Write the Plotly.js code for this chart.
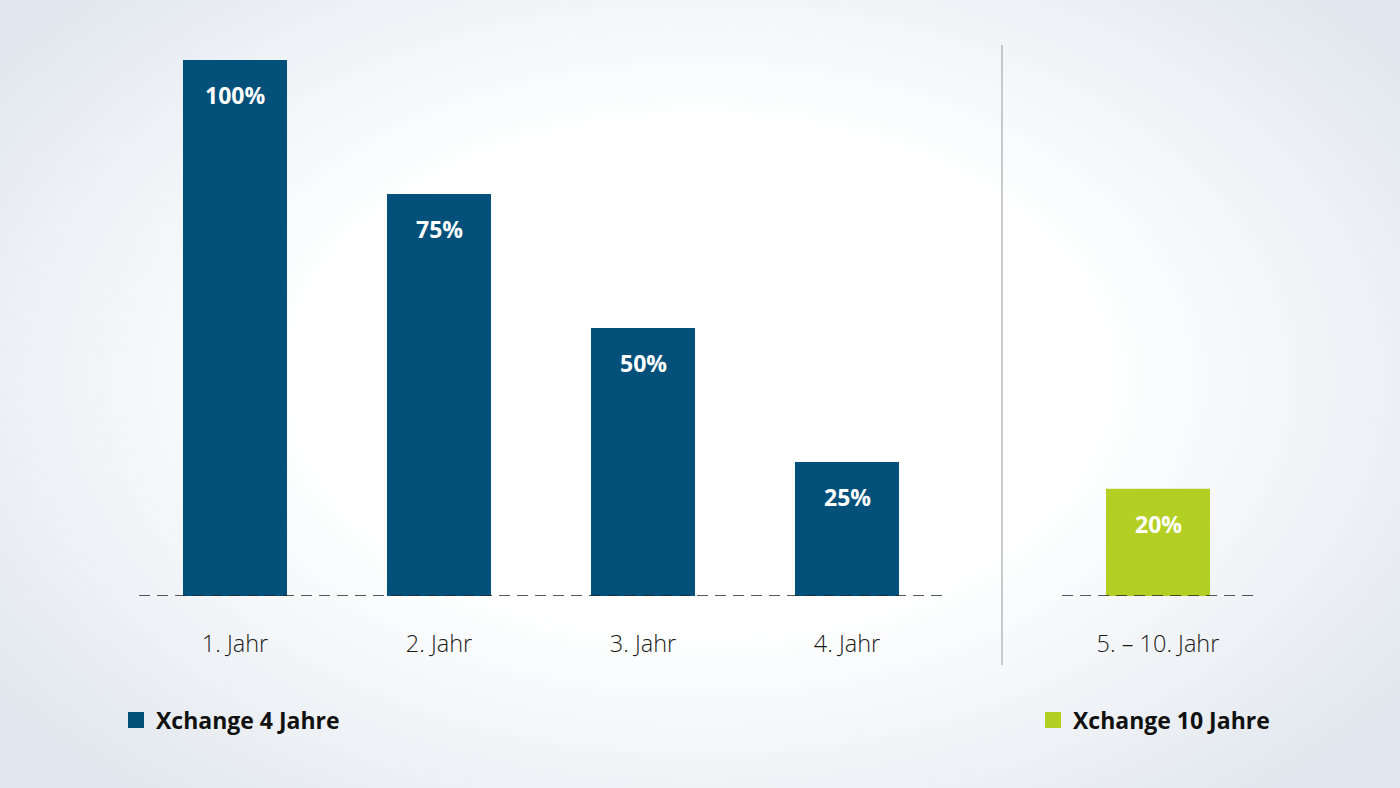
<!DOCTYPE html>
<html>
<head>
<meta charset="utf-8">
<script src="https://cdn.plot.ly/plotly-3.0.1.min.js"></script>
<style>
  html, body { margin: 0; padding: 0; width: 1400px; height: 788px; overflow: hidden; }
  body { background: radial-gradient(ellipse 62% 70% at 50% 48%, #ffffff 45%, #f1f4f7 72%, #e1e7ee 100%); }
  #chart { width: 1400px; height: 788px; }
</style>
</head>
<body>
<div id="chart"></div>
<script>
// ---- data ----
const categories4 = ['1. Jahr', '2. Jahr', '3. Jahr', '4. Jahr'];
const values4 = [100, 75, 50, 25];
const categories10 = ['5. – 10. Jahr'];
const values10 = [20];
const seriesName4 = 'Xchange 4 Jahre';
const seriesName10 = 'Xchange 10 Jahre';

const BLUE = '#03507a';
const GREEN = '#b4cf23';
const FONT = '"Open Sans", "Noto Sans", sans-serif';

const traces = [
  {
    type: 'bar', x: categories4, y: values4, name: seriesName4,
    xaxis: 'x', yaxis: 'y', marker: { color: BLUE }, showlegend: false,
    hoverinfo: 'skip'
  },
  {
    type: 'bar', x: categories10, y: values10, name: seriesName10,
    xaxis: 'x2', yaxis: 'y', marker: { color: GREEN }, showlegend: false,
    hoverinfo: 'skip'
  },
  // legend entries (larger square swatches)
  {
    type: 'scatter', mode: 'markers', x: [null], y: [null], name: seriesName4,
    xaxis: 'x', yaxis: 'y', legend: 'legend',
    marker: { color: BLUE, symbol: 'square', size: 16 }
  },
  {
    type: 'scatter', mode: 'markers', x: [null], y: [null], name: seriesName10,
    xaxis: 'x2', yaxis: 'y', legend: 'legend2',
    marker: { color: GREEN, symbol: 'square', size: 16 }
  }
];

const labelAnn = (xs, ys, xref) => xs.map((c, i) => ({
  x: c, y: ys[i], xref: xref, yref: 'y', text: '<b>' + ys[i] + '%</b>',
  showarrow: false, yanchor: 'top', yshift: -17,
  font: { family: FONT, size: 23, color: '#ffffff' }
}));

const W = 1400, H = 788;
const px = v => v / W, py = v => (H - v) / H;

const tickCommon = {
  type: 'category', showgrid: false, zeroline: false, showline: false,
  ticks: 'outside', ticklen: 27, tickcolor: 'rgba(0,0,0,0)',
  tickfont: { family: FONT, size: 23.5, color: '#1a1a1a', weight: 300 },
  fixedrange: true
};

const legendFont = { family: FONT, size: 23, color: '#111111', weight: 700 };

const layout = {
  width: W, height: H,
  margin: { l: 0, r: 0, t: 0, b: 0 },
  paper_bgcolor: 'rgba(0,0,0,0)',
  plot_bgcolor: 'rgba(0,0,0,0)',
  bargap: 0.49,
  showlegend: true,
  xaxis: Object.assign({}, tickCommon, { domain: [px(133), px(949)], anchor: 'y', range: [-0.5, 3.5] }),
  xaxis2: Object.assign({}, tickCommon, { domain: [px(1056), px(1260)], anchor: 'y', range: [-0.5, 0.5] }),
  yaxis: { domain: [py(596), py(60)], range: [0, 100], visible: false, fixedrange: true },
  legend: {
    x: px(116), y: py(720), xanchor: 'left', yanchor: 'middle', itemsizing: 'trace',
    bgcolor: 'rgba(0,0,0,0)', font: legendFont
  },
  legend2: {
    x: px(1033), y: py(720), xanchor: 'left', yanchor: 'middle', itemsizing: 'trace',
    bgcolor: 'rgba(0,0,0,0)', font: legendFont
  },
  shapes: [
    { type: 'line', xref: 'x domain', yref: 'y', x0: 0.0074, x1: 0.9926, y0: 0, y1: 0,
      line: { color: '#222222', width: 1.6, dash: '11px,7px' }, layer: 'above' },
    { type: 'line', xref: 'x2 domain', yref: 'y', x0: 0.03, x1: 0.975, y0: 0, y1: 0,
      line: { color: '#222222', width: 1.6, dash: '11px,7px' }, layer: 'above' },
    { type: 'line', xref: 'paper', yref: 'paper', x0: px(1002), x1: px(1002), y0: py(665), y1: py(45),
      line: { color: '#a8a8a8', width: 1.2 } }
  ],
  annotations: labelAnn(categories4, values4, 'x').concat(labelAnn(categories10, values10, 'x2'))
};

Plotly.newPlot('chart', traces, layout, { displayModeBar: false, staticPlot: true });
</script>
</body>
</html>
